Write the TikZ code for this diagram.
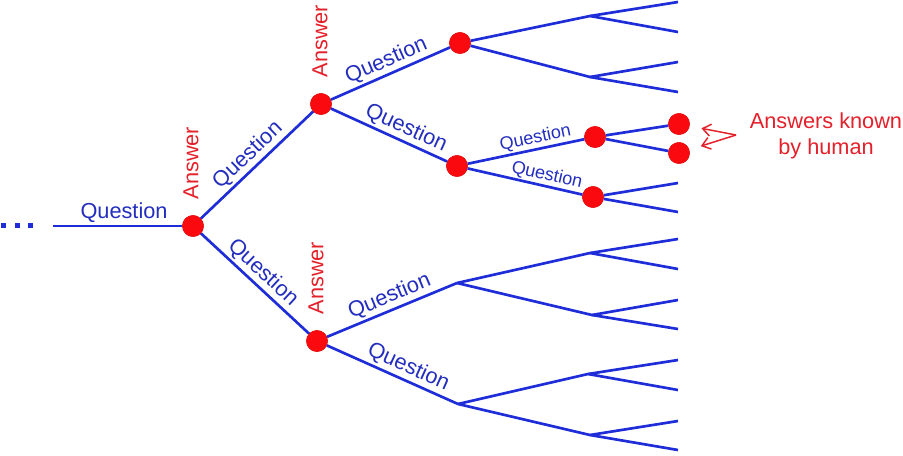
\documentclass[tikz,border=0pt]{standalone}
\usepackage{fontspec}
\setmainfont{Liberation Sans}
\usetikzlibrary{arrows.meta}
\definecolor{qblue}{RGB}{30,45,215}
\definecolor{tblue}{RGB}{35,45,190}
\definecolor{ared}{RGB}{228,32,42}
\definecolor{dred}{RGB}{250,10,15}
\begin{document}
\begin{tikzpicture}[x=0.75pt,y=-0.75pt,
  edge/.style={draw=qblue, line width=2pt},
  dot/.style={circle, fill=dred, draw=red!80!black, line width=0.3pt, minimum size=16pt, inner sep=0pt},
  lbl/.style={text=tblue, font=\fontsize{16.3}{19}\selectfont, inner sep=1.5pt, sloped, above},
  slbl/.style={text=tblue, font=\fontsize{13.5}{16}\selectfont, inner sep=1pt, sloped, above},
  anslbl/.style={text=ared, font=\fontsize{16.3}{19}\selectfont, rotate=90, inner sep=0pt},
  redarrow/.style={draw=ared, line width=1.1pt, -{Straight Barb[length=6pt,width=9pt]}, shorten >=9pt},
]
\useasboundingbox (0,0) rectangle (903,455);

% ellipsis
\fill[qblue] (1,223) rectangle (6,228);
\fill[qblue] (15,223) rectangle (20,228);
\fill[qblue] (28,223) rectangle (33,228);

% main nodes
\coordinate (r0) at (53,226);
\node[dot] (A1) at (193,226) {};
\node[dot] (A2) at (321,104) {};
\node[dot] (A3) at (317,341) {};
\node[dot] (B1) at (460,43) {};
\node[dot] (B2) at (457,166) {};
\node[dot] (C1) at (595,137) {};
\node[dot] (C2) at (593,197) {};
\node[dot] (H1) at (679,124) {};
\node[dot] (H2) at (679,153) {};

% branch points and leaves
\coordinate (b1u) at (590,16);
\coordinate (b1d) at (590,77);
\coordinate (D1) at (457,283);
\coordinate (D2) at (458,404);
\coordinate (E1) at (590,253);
\coordinate (E2) at (592,315);
\coordinate (E3) at (588,374);
\coordinate (E4) at (590,435);
\foreach \n/\y in {l1/2,l2/32,l3/62,l4/92,l5/183,l6/212,l7/239,l8/269,l9/300,l10/329,l11/360,l12/390,l13/421,l14/450}
  \coordinate (\n) at (678,\y);

% edges with labels
\draw[edge] (r0) -- node[lbl, pos=0.55] (q0) {Question} (A1);
\draw[edge] (A1) -- node[lbl, pos=0.5] (q1) {Question} (A2);
\draw[edge] (A1) -- node[lbl, pos=0.49] (q2) {Question} (A3);
\draw[edge] (A2) -- node[lbl, pos=0.51] (q3) {Question} (B1);
\draw[edge] (A2) -- node[lbl, pos=0.6] (q4) {Question} (B2);
\draw[edge] (B2) -- node[slbl, pos=0.6] (q5) {Question} (C1);
\draw[edge] (B2) -- node[slbl, pos=0.67] (q6) {Question} (C2);
\draw[edge] (A3) -- node[lbl, pos=0.52] (q7) {Question} (D1);
\draw[edge] (A3) -- node[lbl, pos=0.58] (q8) {Question} (D2);

% unlabeled edges
\draw[edge] (B1) -- (b1u) -- (l1);
\draw[edge] (b1u) -- (l2);
\draw[edge] (B1) -- (b1d) -- (l3);
\draw[edge] (b1d) -- (l4);
\draw[edge] (C1) -- (H1);
\draw[edge] (C1) -- (H2);
\draw[edge] (C2) -- (l5);
\draw[edge] (C2) -- (l6);
\draw[edge] (D1) -- (E1) -- (l7);
\draw[edge] (E1) -- (l8);
\draw[edge] (D1) -- (E2) -- (l9);
\draw[edge] (E2) -- (l10);
\draw[edge] (D2) -- (E3) -- (l11);
\draw[edge] (E3) -- (l12);
\draw[edge] (D2) -- (E4) -- (l13);
\draw[edge] (E4) -- (l14);

% redraw dots on top
\foreach \d in {A1,A2,A3,B1,B2,C1,C2,H1,H2}
  \fill[dred] (\d) circle (7.8pt);

% Answer labels
\node[anslbl] (an1) at (191,163) {Answer};
\node[anslbl] (an2) at (320,41) {Answer};
\node[anslbl] (an3) at (316,278) {Answer};

% human answers note
\node[text=ared, font=\fontsize{16.3}{19.5}\selectfont, align=center] (note) at (826,136) {Answers known\\by human};
\coordinate (v) at (736,135);
\draw[redarrow] (v) -- (H1);
\draw[redarrow] (v) -- (H2);
\end{tikzpicture}
\end{document}
